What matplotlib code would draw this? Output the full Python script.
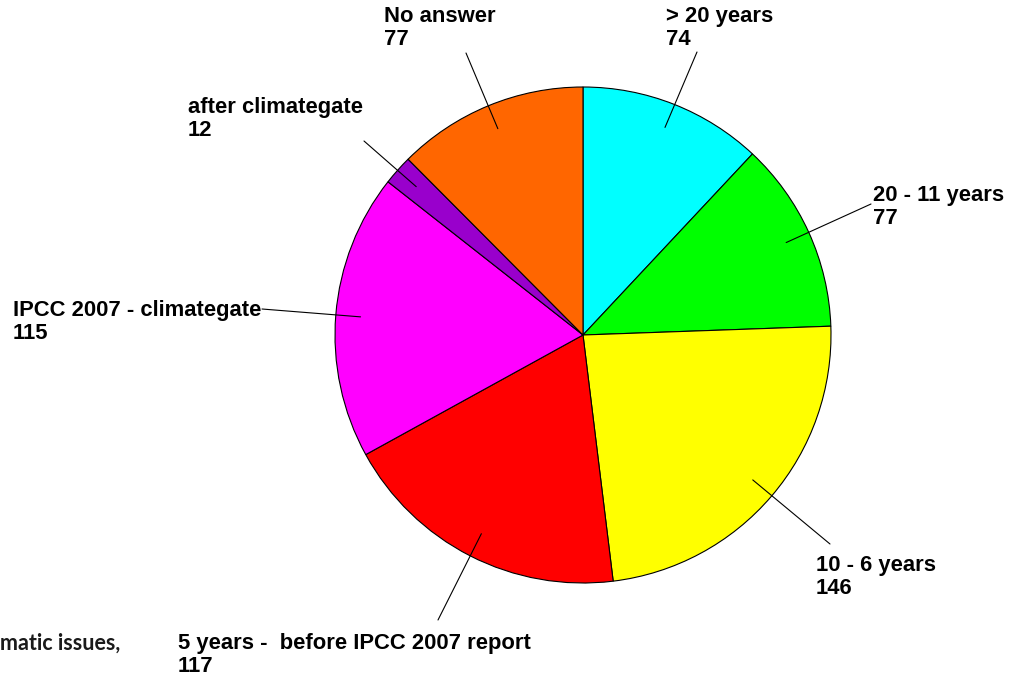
import numpy as np
import matplotlib
matplotlib.use("Agg")
import matplotlib.pyplot as plt

# ---------------- DATA ----------------
labels = ["> 20 years", "20 - 11 years", "10 - 6 years",
          "5 years -  before IPCC 2007 report", "IPCC 2007 - climategate",
          "after climategate", "No answer"]
values = [74, 77, 146, 117, 115, 12, 77]
colors = ["#00FFFF", "#00FF00", "#FFFF00", "#FF0000", "#FF00FF",
          "#9900CC", "#FF6600"]

# label text (left, baseline of last line) and leader line outer end,
# in pixels from top-left
text_pos = [(666, 45), (873, 224), (816, 594), (178, 672),
            (13, 339), (188, 136), (384, 45)]
line_end = [(697, 52), (871, 204), (830, 544), (438, 620),
            (262, 309), (364, 141), (466, 53)]

W, H = 1009, 684
CX, CY, R = 583, 335, 248

fig = plt.figure(figsize=(W / 100, H / 100), dpi=100)
ax = fig.add_axes([0, 0, 1, 1])

wedges, _ = ax.pie(values, colors=colors, startangle=90, counterclock=False,
                   center=(CX, H - CY), radius=R, frame=True,
                   wedgeprops=dict(edgecolor="black", linewidth=0.8))
ax.set_xlim(0, W)
ax.set_ylim(0, H)
ax.set_aspect("equal")
ax.axis("off")

for w, lab, val, tp, le in zip(wedges, labels, values, text_pos, line_end):
    mid = np.deg2rad((w.theta1 + w.theta2) / 2)
    inner = (CX + 0.9 * R * np.cos(mid), H - CY + 0.9 * R * np.sin(mid))
    ax.annotate("", xy=inner, xytext=(le[0], H - le[1]),
                arrowprops=dict(arrowstyle="-", color="black", lw=0.8,
                                shrinkA=0, shrinkB=0))
    ax.text(tp[0], H - tp[1], f"{lab}\n{val}", ha="left", va="baseline",
            fontsize=15.8, fontweight="bold", family="Liberation Sans",
            linespacing=1.15)

# cut-off text at the lower left
ax.text(0, H - 650, "matic issues,", ha="left", va="baseline",
        fontsize=15.5, fontweight="bold", family="Lato", color="#1a1a1a")

fig.savefig("out.png", dpi=100)
